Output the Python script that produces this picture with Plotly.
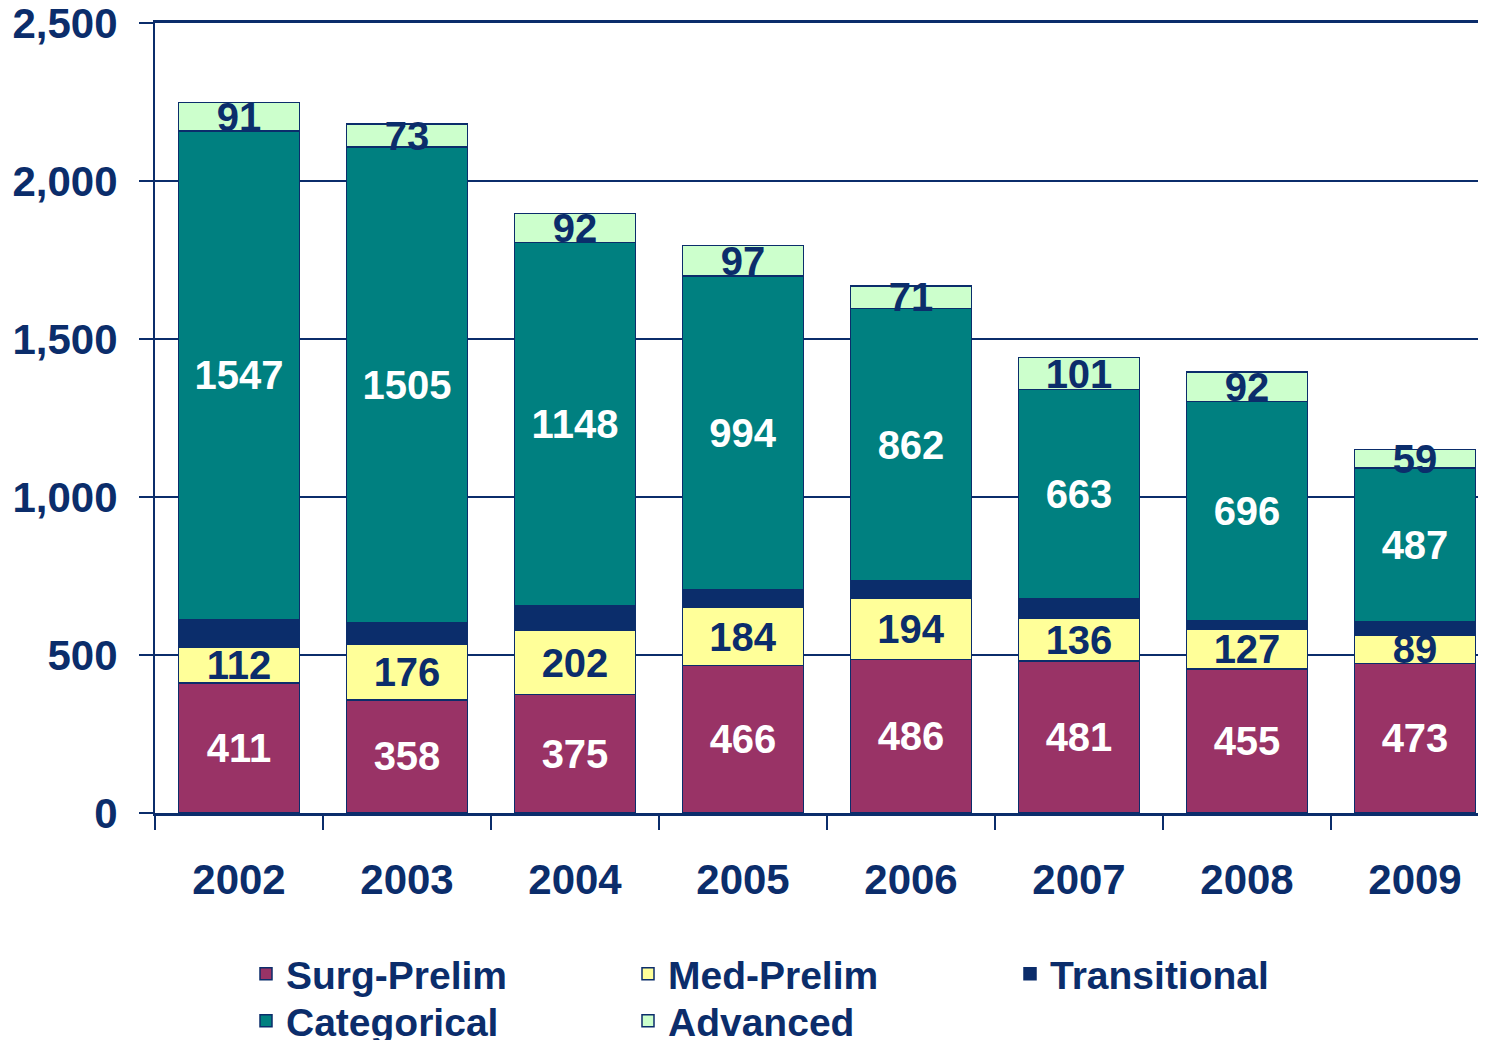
import plotly.graph_objects as go

years = ["2002", "2003", "2004", "2005", "2006", "2007", "2008", "2009"]
surg_prelim = [411, 358, 375, 466, 486, 481, 455, 473]
med_prelim = [112, 176, 202, 184, 194, 136, 127, 89]
transitional = [88, 68, 80, 55, 55, 60, 25, 42]
categorical = [1547, 1505, 1148, 994, 862, 663, 696, 487]
advanced = [91, 73, 92, 97, 71, 101, 92, 59]

NAVY = "#0B2D6B"
FONT = "Liberation Sans, Arial, sans-serif"

# the page body has an 8px margin, so the figure is sized to end at the window edge
W, H = 1478, 1032
L = 147
# the reference's plot area runs past the right edge of the picture (168 px per category)
x_span = (W - L) / 168.0

series = [
    ("Surg-Prelim", surg_prelim, "#993366", "white", True, "legend"),
    ("Med-Prelim", med_prelim, "#FFFF99", NAVY, True, "legend"),
    ("Transitional", transitional, "#0B2D6B", NAVY, False, "legend"),
    ("Categorical", categorical, "#008080", "white", True, "legend2"),
    ("Advanced", advanced, "#CCFFCC", NAVY, True, "legend2"),
]

fig = go.Figure()
for name, vals, color, tcolor, show, lg in series:
    fig.add_trace(go.Bar(
        x=years, y=vals, name=name, legend=lg,
        marker=dict(color=color, line=dict(color=NAVY, width=1.5)),
        text=[str(v) for v in vals] if show else None,
        texttemplate="%{text}" if show else None,
        textposition="inside" if show else "none",
        insidetextanchor="middle",
        constraintext="none",
        textangle=0,
        textfont=dict(family=FONT, size=40, color=tcolor, weight="bold"),
        hoverinfo="skip",
    ))

legend_common = dict(
    orientation="h", xref="container", yref="container",
    xanchor="left", yanchor="top",
    entrywidth=337, traceorder="normal",
    font=dict(family=FONT, size=39, color=NAVY, weight="bold"),
    itemwidth=30, tracegroupgap=0, bgcolor="rgba(0,0,0,0)",
)

fig.update_layout(
    barmode="stack",
    bargap=0.28,
    width=W, height=H,
    margin=dict(l=L, r=0, t=15, b=227, autoexpand=False),
    plot_bgcolor="white", paper_bgcolor="white",
    font=dict(family=FONT, color=NAVY, weight="bold"),
    showlegend=True,
    legend=dict(x=238 / W, y=1 - 934 / H, **legend_common),
    legend2=dict(x=238 / W, y=1 - 981 / H, **legend_common),
)
fig.update_yaxes(
    range=[0, 2500], dtick=500, tickformat=",",
    showgrid=True, gridcolor=NAVY, gridwidth=1.5,
    showline=True, linecolor=NAVY, linewidth=2,
    ticks="outside", ticklen=14, tickcolor=NAVY, tickwidth=2,
    ticklabelstandoff=13, ticklabeloverflow="allow",
    tickfont=dict(family=FONT, size=42, color=NAVY, weight="bold"),
    zeroline=False, automargin=False,
)
fig.update_xaxes(
    range=[-0.5, -0.5 + x_span],
    showline=True, linecolor=NAVY, linewidth=2.5, mirror=True,
    ticks="outside", ticklen=14, tickcolor=NAVY, tickwidth=2,
    tickson="boundaries",
    ticklabelstandoff=28,
    tickfont=dict(family=FONT, size=42, color=NAVY, weight="bold"),
    automargin=False,
)

fig.write_html("out.html")
